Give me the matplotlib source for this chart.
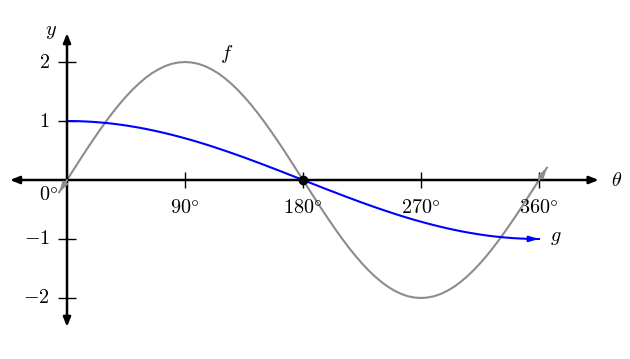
import numpy as np
import matplotlib
matplotlib.use('Agg')
import matplotlib.pyplot as plt

plt.rcParams['mathtext.fontset'] = 'cm'
plt.rcParams['font.family'] = 'serif'
plt.rcParams['font.serif'] = ['DejaVu Serif']

# f(theta) = 2 sin(theta), every 5 degrees
theta_f = [-6] + list(range(0, 365, 5)) + [366]
f_vals = [-0.209,
          0.0, 0.174, 0.347, 0.518, 0.684, 0.845, 1.0, 1.147, 1.286, 1.414, 1.532, 1.638, 1.732,
          1.813, 1.879, 1.932, 1.970, 1.992, 2.0, 1.992, 1.970, 1.932, 1.879, 1.813, 1.732, 1.638,
          1.532, 1.414, 1.286, 1.147, 1.0, 0.845, 0.684, 0.518, 0.347, 0.174, 0.0,
          -0.174, -0.347, -0.518, -0.684, -0.845, -1.0, -1.147, -1.286, -1.414, -1.532, -1.638,
          -1.732, -1.813, -1.879, -1.932, -1.970, -1.992, -2.0, -1.992, -1.970, -1.932, -1.879,
          -1.813, -1.732, -1.638, -1.532, -1.414, -1.286, -1.147, -1.0, -0.845, -0.684, -0.518,
          -0.347, -0.174, 0.0,
          0.209]

# g(theta) = cos(theta/2)
theta_g = list(range(0, 365, 5))
g_vals = [1.0, 0.999, 0.996, 0.991, 0.985, 0.976, 0.966, 0.954, 0.940, 0.924, 0.906, 0.887,
          0.866, 0.843, 0.819, 0.793, 0.766, 0.737, 0.707, 0.676, 0.643, 0.609, 0.574, 0.537,
          0.5, 0.462, 0.423, 0.383, 0.342, 0.301, 0.259, 0.216, 0.174, 0.131, 0.087, 0.044,
          0.0, -0.044, -0.087, -0.131, -0.174, -0.216, -0.259, -0.301, -0.342, -0.383, -0.423,
          -0.462, -0.5, -0.537, -0.574, -0.609, -0.643, -0.676, -0.707, -0.737, -0.766, -0.793,
          -0.819, -0.843, -0.866, -0.887, -0.906, -0.924, -0.940, -0.954, -0.966, -0.976,
          -0.985, -0.991, -0.996, -0.999, -1.0]

xticks = [90, 180, 270, 360]
xtick_labels = ['$90\\degree$', '$180\\degree$', '$270\\degree$', '$360\\degree$']
yticks = [-2, -1, 1, 2]
ytick_labels = ['$-2$', '$-1$', '$1$', '$2$']

fs = 14.5
fig = plt.figure(figsize=(6.3, 3.59), dpi=100)
ax = fig.add_axes([0, 0, 1, 1])
ax.set_xlim(-51.1, 429.4)
ax.set_ylim(-3.034, 3.051)
ax.axis('off')

# axes with arrows
axis_style = '<|-|>,head_length=0.5,head_width=0.2'
ax.annotate('', xy=(405.5, 0), xytext=(-43.5, 0),
            arrowprops=dict(arrowstyle=axis_style, color='black', lw=1.8, mutation_scale=11,
                            shrinkA=0, shrinkB=0))
ax.annotate('', xy=(0, 2.49), xytext=(0, -2.49),
            arrowprops=dict(arrowstyle=axis_style, color='black', lw=1.8, mutation_scale=11,
                            shrinkA=0, shrinkB=0))

# ticks
ax.vlines(xticks, -0.14, 0.14, color='black', lw=1.0)
ax.hlines(yticks, -7, 7, color='black', lw=1.0)
for t, lab in zip(xticks, xtick_labels):
    ax.text(t, -0.46, lab, ha='center', va='center', fontsize=fs)
for t, lab in zip(yticks, ytick_labels):
    ax.text(-13, t, lab, ha='right', va='center', fontsize=fs)
ax.text(-14, -0.25, '$0\\degree$', ha='center', va='center', fontsize=fs)

# curves
gray = '#8c8c8c'
curve_style = '-|>,head_length=0.55,head_width=0.16'
ax.plot(theta_f, f_vals, color=gray, lw=1.5)
ax.annotate('', xy=(theta_f[0], f_vals[0]), xytext=(theta_f[1], f_vals[1]),
            arrowprops=dict(arrowstyle=curve_style, color=gray, lw=1.5, mutation_scale=10,
                            shrinkA=0, shrinkB=0))
ax.annotate('', xy=(theta_f[-1], f_vals[-1]), xytext=(theta_f[-2], f_vals[-2]),
            arrowprops=dict(arrowstyle=curve_style, color=gray, lw=1.5, mutation_scale=10,
                            shrinkA=0, shrinkB=0))

ax.plot(theta_g, g_vals, color='blue', lw=1.5)
ax.annotate('', xy=(theta_g[-1], g_vals[-1]), xytext=(theta_g[-2], g_vals[-2]),
            arrowprops=dict(arrowstyle=curve_style, color='blue', lw=1.5, mutation_scale=10,
                            shrinkA=0, shrinkB=0))

ax.plot([180], [0], 'o', color='black', ms=6, zorder=5)

ax.text(122, 2.14, '$f$', ha='center', va='center', fontsize=fs)
ax.text(373, -0.98, '$g$', ha='center', va='center', fontsize=fs)
ax.text(-12.2, 2.52, '$y$', ha='center', va='center', fontsize=fs)
ax.text(419.5, 0.0, '$\\theta$', ha='center', va='center', fontsize=fs)

fig.savefig('out.png', dpi=100)
